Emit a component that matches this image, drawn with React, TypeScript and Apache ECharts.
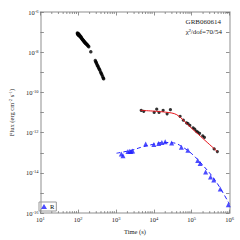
import React, { useEffect, useRef } from "react";
import * as echarts from "echarts";

// Early steep decay (black points)
const earlyT = [95, 96, 97, 99, 100, 101, 103, 104, 106, 108, 110, 113, 116, 118, 121, 124, 127, 130, 134, 137, 140, 144, 148, 152, 156, 161, 166, 171, 177, 183, 190, 215, 283, 292, 300, 310, 322, 333, 345, 360, 372, 390, 405, 420, 440, 460, 470];
const earlyF = [9.0e-8, 8.0e-8, 8.2e-8, 8.6e-8, 7.3e-8, 7.6e-8, 8.0e-8, 6.8e-8, 7.0e-8, 6.5e-8, 6.9e-8, 6.0e-8, 5.6e-8, 5.9e-8, 5.2e-8, 4.8e-8, 4.6e-8, 4.3e-8, 4.1e-8, 3.7e-8, 3.6e-8, 3.4e-8, 3.1e-8, 3.0e-8, 2.8e-8, 2.7e-8, 2.5e-8, 2.4e-8, 2.2e-8, 2.05e-8, 1.9e-8, 1.05e-8, 3.9e-9, 3.4e-9, 3.0e-9, 2.6e-9, 2.2e-9, 2.0e-9, 1.7e-9, 1.45e-9, 1.3e-9, 1.05e-9, 9.0e-10, 7.8e-10, 6.3e-10, 5.2e-10, 4.8e-10];

// Late X-ray points (black)
const xrtT = [4630, 5400, 10200, 11900, 13700, 17600, 22400, 27400, 49500, 60100, 73100, 80000, 89400, 109000, 120000, 132000, 145000, 162000, 196000, 217000, 393000, 477000];
const xrtF = [1.29e-11, 1.15e-11, 1.02e-11, 1.48e-11, 1.02e-11, 1.29e-11, 8.7e-12, 1.38e-11, 6.5e-12, 4.2e-12, 3.1e-12, 2.8e-12, 2.3e-12, 1.74e-12, 1.5e-12, 1.2e-12, 1.05e-12, 9.3e-13, 6.9e-13, 5.8e-13, 1.55e-13, 1.15e-13];

// Red model line
const xModelT = [4460, 20000, 40400, 96600, 477000];
const xModelF = [1.29e-11, 1.05e-11, 7.8e-12, 1.74e-12, 1.15e-13];

// R band (blue triangles)
const rT = [1380, 1530, 2060, 2300, 2500, 2750, 6080, 10000, 13400, 16300, 19900, 29500, 53400, 79400, 144000, 167000, 234000, 315000, 383000, 570000, 930000];
const rF = [8.7e-14, 7.2e-14, 1.17e-13, 1.2e-13, 1.17e-13, 1.22e-13, 2.7e-13, 2.57e-13, 2.9e-13, 3.2e-13, 3.55e-13, 3.1e-13, 1.86e-13, 1.32e-13, 4.1e-14, 2.9e-14, 1.12e-14, 6.3e-15, 4.4e-15, 1.58e-15, 2.6e-16];

// Blue dashed model
const rModelT = [1030, 2770, 4530, 9040, 18400, 33300, 53400, 96600, 175000, 424000, 1000000];
const rModelF = [9.5e-14, 1.38e-13, 1.86e-13, 2.57e-13, 3.24e-13, 3.1e-13, 2.1e-13, 9.5e-14, 3.1e-14, 4.1e-15, 2.75e-16];

const xDecades = [1, 2, 3, 4, 5];
const minorMultipliers = [2, 3, 4, 5, 6, 7, 8, 9];

const FONT = "Liberation Serif";

export default function App() {
  const ref = useRef<HTMLDivElement>(null);
  useEffect(() => {
    document.body.style.margin = "0";
    const chart = echarts.init(ref.current!, null, { renderer: "svg" });
    const zip = (a: number[], b: number[]) => a.map((v, i) => [v, b[i]]);
    const minorData: number[][] = [];
    xDecades.forEach((d) => minorMultipliers.forEach((m) => minorData.push([m * Math.pow(10, d), 1e-16])));

    const supLabel = (v: number) => {
      const e = Math.round(Math.log10(v));
      return `{b|10}{s|${e}}`;
    };
    const rich = {
      b: { fontSize: 6.5, fontFamily: FONT, color: "#222", verticalAlign: "bottom" },
      s: { fontSize: 4.5, fontFamily: FONT, color: "#222", verticalAlign: "top" },
    };
    const axisLine = { show: true, lineStyle: { color: "#b5b5b5", width: 1.5 } };
    const tick = { show: true, inside: true, length: 3.5, lineStyle: { color: "#777", width: 0.8 } };

    chart.setOption({
      animation: false,
      backgroundColor: "#fff",
      grid: { left: 35, right: 10.5, top: 12, bottom: 23 },
      legend: {
        left: 39,
        top: 202,
        data: ["R"],
        padding: [1, 2, 1, 2],
        borderColor: "#999",
        borderWidth: 1,
        itemWidth: 6,
        itemHeight: 5,
        textStyle: { fontSize: 6.5, fontFamily: FONT, color: "#000", padding: [0, 0, 0, -2] },
      },
      xAxis: [
        {
          type: "log",
          logBase: 10,
          min: 10,
          max: 1e6,
          interval: 1,
          name: "Time (s)",
          nameLocation: "middle",
          nameGap: 14,
          nameTextStyle: { fontSize: 6.5, fontFamily: FONT, color: "#222" },
          axisLine,
          axisTick: tick,
          splitLine: { show: false },
          axisLabel: { formatter: supLabel, rich, margin: 3 },
        },
        {
          type: "log",
          logBase: 10,
          min: 10,
          max: 1e6,
          interval: 1,
          position: "top",
          axisLine,
          axisTick: tick,
          splitLine: { show: false },
          axisLabel: { show: false },
        },
      ],
      yAxis: [
        {
          type: "log",
          logBase: 10,
          min: 1e-16,
          max: 1e-6,
          interval: 1,
          name: "{n|Flux (erg cm}{s|-2}{n| s}{s|-1}{n|)}",
          nameLocation: "middle",
          nameGap: 21,
          nameRotate: 90,
          nameTextStyle: {
            rich: {
              n: { fontSize: 6.5, fontFamily: FONT, color: "#222", verticalAlign: "bottom" },
              s: { fontSize: 4.5, fontFamily: FONT, color: "#222", verticalAlign: "top" },
            },
          },
          axisLine,
          axisTick: tick,
          splitLine: { show: false },
          axisLabel: {
            formatter: (v: number) => {
              const e = Math.round(Math.log10(v));
              return e % 2 === 0 ? `{b|10}{s|${e}}` : "";
            },
            rich,
            margin: 2,
          },
        },
        {
          type: "log",
          logBase: 10,
          min: 1e-16,
          max: 1e-6,
          interval: 1,
          position: "right",
          axisLine,
          axisTick: tick,
          splitLine: { show: false },
          axisLabel: { show: false },
        },
      ],
      graphic: [
        {
          type: "text",
          right: 19,
          top: 18,
          style: { text: "GRB060614", fontSize: 7, fontFamily: FONT, fill: "#222" },
        },
        {
          type: "text",
          right: 18,
          top: 28,
          style: { text: "χ²/dof=70/54", fontSize: 7, fontFamily: FONT, fill: "#222" },
        },
      ],
      series: [
        {
          type: "custom",
          silent: true,
          clip: false,
          data: minorData,
          renderItem: (params: any, api: any) => {
            const v = api.value(0);
            const pb = api.coord([v, 1e-16]);
            const pt = api.coord([v, 1e-6]);
            const st = { stroke: "#777", lineWidth: 0.8 };
            return {
              type: "group",
              children: [
                { type: "line", shape: { x1: pb[0], y1: pb[1], x2: pb[0], y2: pb[1] - 2 }, style: st },
                { type: "line", shape: { x1: pt[0], y1: pt[1], x2: pt[0], y2: pt[1] + 2 }, style: st },
              ],
            };
          },
        },
        {
          name: "early",
          type: "scatter",
          symbol: "circle",
          symbolSize: 3.5,
          itemStyle: { color: "#000" },
          data: zip(earlyT, earlyF),
        },
        {
          name: "xrt",
          type: "scatter",
          symbol: "circle",
          symbolSize: 3.2,
          itemStyle: { color: "#000" },
          data: zip(xrtT, xrtF),
        },
        {
          name: "xmodel",
          type: "line",
          smooth: 0.3,
          showSymbol: false,
          lineStyle: { color: "#e8141b", width: 1 },
          data: zip(xModelT, xModelF),
        },
        {
          name: "R",
          type: "scatter",
          symbol: "triangle",
          symbolSize: 5,
          itemStyle: { color: "#1f1fff" },
          data: zip(rT, rF),
        },
        {
          name: "rmodel",
          type: "line",
          smooth: 0.4,
          showSymbol: false,
          lineStyle: { color: "#1f1fff", width: 1, type: [4, 3] },
          data: zip(rModelT, rModelF),
        },
      ],
    });
    return () => chart.dispose();
  }, []);
  return <div ref={ref} style={{ width: 240, height: 240 }} />;
}
